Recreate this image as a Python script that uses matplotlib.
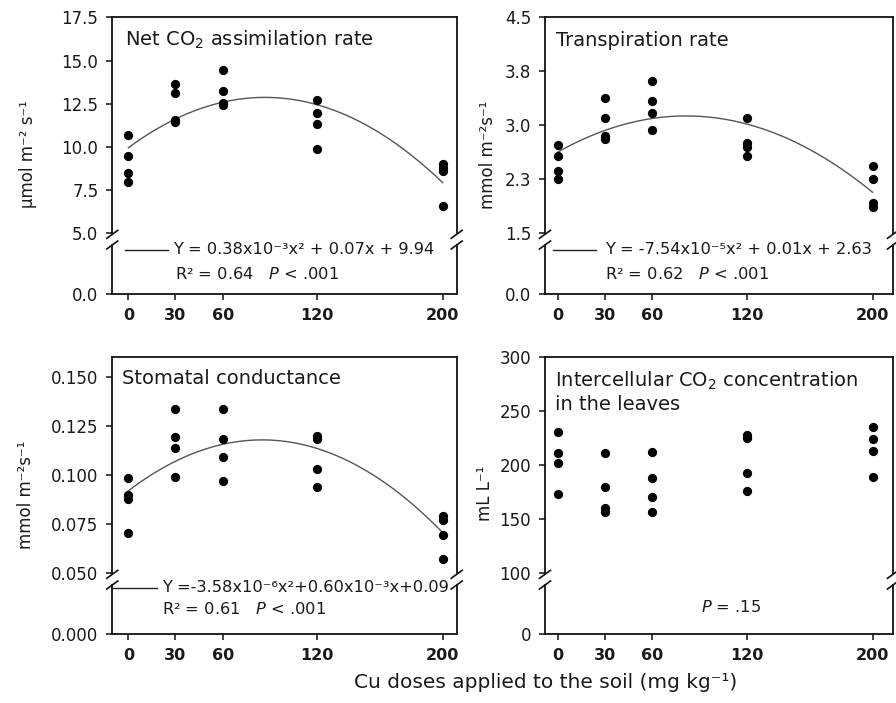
import matplotlib
matplotlib.use("Agg")
import matplotlib.pyplot as plt
from matplotlib.lines import Line2D
import numpy as np

plt.rcParams['font.family'] = ['DejaVu Sans']
plt.rcParams['mathtext.default'] = 'regular'
plt.rcParams['mathtext.fontset'] = 'dejavusans'

# ---------------- data ----------------
doses = [0, 30, 60, 120, 200]
dose_labels = ['0', '30', '60', '120', '200']

net_co2 = [[10.7, 9.45, 8.5, 7.95],
           [13.65, 13.1, 11.57, 11.42],
           [14.46, 13.25, 12.53, 12.42],
           [12.69, 11.96, 11.33, 9.9],
           [9.0, 8.8, 8.6, 6.57]]
transp = [[2.73, 2.57, 2.37, 2.25],
          [3.38, 3.10, 2.85, 2.81],
          [3.62, 3.34, 3.17, 2.93],
          [3.10, 2.76, 2.70, 2.57],
          [2.43, 2.25, 1.92, 1.87]]
stomatal = [[0.0986, 0.0898, 0.0876, 0.0703],
            [0.1339, 0.1195, 0.1136, 0.0992],
            [0.1336, 0.1183, 0.1090, 0.0971],
            [0.1200, 0.1183, 0.1030, 0.0941],
            [0.0793, 0.0771, 0.0695, 0.0571]]
ci = [[230.6, 211.1, 201.9, 173.1],
      [211.1, 179.6, 160.2, 157.1],
      [212.7, 188.0, 171.0, 156.5],
      [228.1, 225.0, 192.6, 176.2],
      [235.8, 224.1, 213.6, 188.9]]

# quadratic fits (a, b, c)
fit_net = [-3.86e-4, 0.0671, 9.95]
fit_tr = [-7.54e-5, 0.01228, 2.63]
fit_gs = [-3.58e-6, 6.095e-4, 0.092]

titles = ['Net CO$_2$ assimilation rate', 'Transpiration rate',
          'Stomatal conductance', 'Intercellular CO$_2$ concentration\nin the leaves']
ylabels = ['µmol m⁻² s⁻¹', 'mmol m⁻²s⁻¹', 'mmol m⁻²s⁻¹', 'mL L⁻¹']
eq_texts = ['Y = 0.38x10⁻³x² + 0.07x + 9.94',
            'Y = -7.54x10⁻⁵x² + 0.01x + 2.63',
            'Y =-3.58x10⁻⁶x²+0.60x10⁻³x+0.09',
            None]
r2_texts = ['R² = 0.64   $\\it{P}$ < .001',
            'R² = 0.62   $\\it{P}$ < .001',
            'R² = 0.61   $\\it{P}$ < .001',
            None]
p_text_ci = '$\\it{P}$ = .15'

yticks_up = [[5.0, 7.5, 10.0, 12.5, 15.0, 17.5],
             [1.5, 2.25, 3.0, 3.75, 4.5],
             [0.050, 0.075, 0.100, 0.125, 0.150],
             [100, 150, 200, 250, 300]]
ytick_labels_up = [['5.0', '7.5', '10.0', '12.5', '15.0', '17.5'],
                   ['1.5', '2.3', '3.0', '3.8', '4.5'],
                   ['0.050', '0.075', '0.100', '0.125', '0.150'],
                   ['100', '150', '200', '250', '300']]
ylims_up = [(5.0, 17.5), (1.5, 4.5), (0.050, 0.160), (100, 300)]
zero_labels = ['0.0', '0.0', '0.000', '0']
xlabel = 'Cu doses applied to the soil (mg kg⁻¹)'

# ---------------- layout (pixels) ----------------
W, H = 896, 703
fig = plt.figure(figsize=(W / 100, H / 100), dpi=100)
TXT = '#1a1a1a'


def rect(l, t, r, b):
    return [l / W, 1 - b / H, (r - l) / W, (b - t) / H]


def fx(x):
    return x / W


def fy(y):
    return 1 - y / H


panels = [
    dict(l=112.3, r=456.7, t=17.3, ub=233.3, lt=245, b=294, xlim=(-10.2, 208.9)),
    dict(l=545, r=893, t=17.3, ub=233.3, lt=245, b=294, xlim=(-8.3, 213)),
    dict(l=112.3, r=456.7, t=357.3, ub=573.3, lt=585, b=634, xlim=(-10.2, 208.9)),
    dict(l=545, r=893, t=357.3, ub=573.3, lt=585, b=634, xlim=(-8.3, 213)),
]
datasets = [net_co2, transp, stomatal, ci]
fits = [fit_net, fit_tr, fit_gs, None]

title_pos = [(125, 40), (556, 40), (122, 379), (555, 391.5)]
ylabel_pos = [(28, 154), (488, 155), (26, 495), (485, 493)]
legline = [(125, 168, 250), (553, 596, 250), (113, 157, 588), None]
eq_pos = [(173, 250), (605, 250), (162, 588), None]
r2_pos = [(175, 274), (605, 274), (162, 609), None]

for i, p in enumerate(panels):
    axU = fig.add_axes(rect(p['l'], p['t'], p['r'], p['ub']))
    axL = fig.add_axes(rect(p['l'], p['lt'], p['r'], p['b']))
    for ax in (axU, axL):
        ax.set_xlim(*p['xlim'])
        ax.patch.set_alpha(0)
        for s in ax.spines.values():
            s.set_linewidth(1.3)
            s.set_color('#111111')
        ax.tick_params(direction='out', length=4, width=1.1, color='#111111',
                       labelsize=12, labelcolor=TXT, pad=6)
    axU.spines['bottom'].set_visible(False)
    axU.tick_params(axis='x', bottom=False, labelbottom=False)
    axL.spines['top'].set_visible(False)

    axU.set_ylim(*ylims_up[i])
    axU.set_yticks(yticks_up[i])
    axU.set_yticklabels(ytick_labels_up[i])
    axL.set_ylim(0, 1)
    axL.set_yticks([0])
    axL.set_yticklabels([zero_labels[i]])
    axL.set_xticks(doses)
    axL.set_xticklabels(dose_labels, fontweight='bold', fontsize=11.5)
    axL.tick_params(axis='x', pad=6)

    data = datasets[i]
    xs = [d for d, vals in zip(doses, data) for _ in vals]
    ys = [v for vals in data for v in vals]
    axU.scatter(xs, ys, s=32, color='black', zorder=3, clip_on=False)

    if fits[i] is not None:
        a, b, c = fits[i]
        xx = np.linspace(0, 200, 200)
        axU.plot(xx, a * xx ** 2 + b * xx + c, color='#555555', lw=1.0, zorder=2)

    # break marks
    for xs_ in (p['l'], p['r']):
        for yc in (p['ub'] + 1.0, p['lt']):
            fig.add_artist(Line2D([fx(xs_ - 5.5), fx(xs_ + 5.5)],
                                  [fy(yc + 4), fy(yc - 4)],
                                  color='#111111', lw=1.2, transform=fig.transFigure))

    tx, ty = title_pos[i]
    fig.text(fx(tx), fy(ty), titles[i], fontsize=14, color=TXT,
             ha='left', va='center', linespacing=1.2)
    lx, ly = ylabel_pos[i]
    fig.text(fx(lx), fy(ly), ylabels[i], fontsize=12, color=TXT, rotation=90,
             ha='center', va='center')

    if legline[i] is not None:
        x0, x1, yl = legline[i]
        fig.add_artist(Line2D([fx(x0), fx(x1)], [fy(yl), fy(yl)], color='#222222',
                              lw=1.0, transform=fig.transFigure))
        ex, ey = eq_pos[i]
        fig.text(fx(ex), fy(ey), eq_texts[i], fontsize=11.7, color=TXT, ha='left', va='center')
        rx, ry = r2_pos[i]
        fig.text(fx(rx), fy(ry), r2_texts[i], fontsize=11.7, color=TXT, ha='left', va='center')
    else:
        fig.text(fx(731), fy(607), p_text_ci, fontsize=11.7, color=TXT, ha='center', va='center')

fig.text(fx(546), fy(683), xlabel, fontsize=14.5, color=TXT, ha='center', va='center')

fig.savefig('out.png', dpi=100)
